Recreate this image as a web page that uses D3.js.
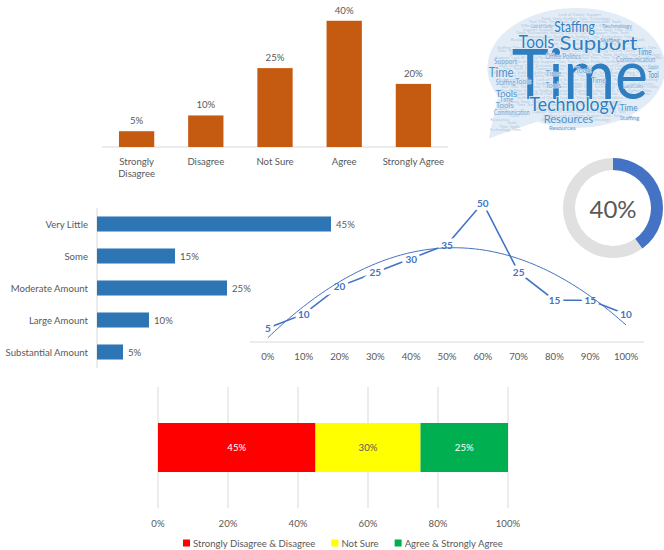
<!DOCTYPE html>
<html>
<head>
<meta charset="utf-8">
<script src="https://cdn.jsdelivr.net/npm/d3@7"></script>
<style>
  body { margin: 0; background: #fff; }
  svg text { font-family: Lato, "Open Sans", sans-serif; }
</style>
</head>
<body>
<svg id="chart" width="664" height="550"></svg>
<script>
// agreement question (column chart)
var agreeCats = ["Strongly Disagree", "Disagree", "Not Sure", "Agree", "Strongly Agree"]
var agreeVals = [5, 10, 25, 40, 20]

// amount question (bar chart)
var amountCats = ["Very Little", "Some", "Moderate Amount", "Large Amount", "Substantial Amount"]
var amountVals = [45, 15, 25, 10, 5]

// line chart with trendline
var lineCats = ["0%", "10%", "20%", "30%", "40%", "50%", "60%", "70%", "80%", "90%", "100%"]
var lineVals = [5, 10, 20, 25, 30, 35, 50, 25, 15, 15, 10]

// donut
var donutVal = 40

// stacked 100% bar
var stackCats = ["Strongly Disagree & Disagree", "Not Sure", "Agree & Strongly Agree"]
var stackVals = [45, 30, 25]
var stackColors = ["#FF0000", "#FFFF00", "#00B050"]
var stackTicks = [0, 20, 40, 60, 80, 100]

// word cloud words and weights
var cloudWords = ["Time", "Support", "Technology", "Staffing", "Tools", "Resources", "Time", "Tools",
  "Support", "Staffing", "Time", "Time", "Communication", "Tool", "Office Politics", "Lack of Clarity",
  "Lack of Clarity", "Technology", "Communication", "Tools", "Time", "Staffing", "Resources", "Support",
  "Time", "Tools", "Tools", "Time", "Staffing", "Tools"]
var cloudSizes = [70, 19, 19, 15, 17, 12, 13, 10, 8, 8, 10, 9, 8, 9, 7, 6, 5, 6, 7, 8, 7, 6, 6, 6, 7, 7, 7, 7, 6, 7]
// where each word sits in the cloud (0-100 of the cloud box), and its width
var cloudLayout = [
  [14, 71, 77], [41, 36, 44], [24, 79, 50], [38, 23, 23], [18, 34, 20], [32, 88, 28], [1, 55, 14], [5, 69, 12],
  [4, 46, 13], [5, 61, 11], [75, 79, 10], [85, 39, 8], [73, 44, 22], [91, 56, 6], [33, 42, 20], [77, 63, 11],
  [25, 20, 12], [65, 20, 17], [4, 82, 20], [5, 77, 10], [7, 73, 8], [75, 86, 11], [35, 93, 15], [91, 49, 6],
  [33, 54, 9], [33, 63, 9], [50, 52, 9], [59, 59, 8], [64, 30, 11], [16, 60, 9]
]

var svg = d3.select("#chart")
var textColor = "#595959"
var fs = 9.6

// ---------- column chart ----------
var x1 = d3.scaleBand().domain(agreeCats).range([102, 448]).paddingInner(0.49).paddingOuter(0.245)
var y1 = d3.scaleLinear().domain([0, 45]).range([147, 5])

svg.append("line")
  .attr("x1", 102).attr("x2", 448).attr("y1", y1(0)).attr("y2", y1(0))
  .attr("stroke", "#d9d9d9")

svg.selectAll(".colbar").data(agreeVals).enter().append("rect")
  .attr("class", "colbar")
  .attr("x", function(d, i) { return x1(agreeCats[i]) })
  .attr("y", function(d) { return y1(d) })
  .attr("width", x1.bandwidth())
  .attr("height", function(d) { return y1(0) - y1(d) })
  .attr("fill", "#C55A11")

svg.selectAll(".collab").data(agreeVals).enter().append("text")
  .attr("x", function(d, i) { return x1(agreeCats[i]) + x1.bandwidth() / 2 })
  .attr("y", function(d) { return y1(d) - 7 })
  .attr("text-anchor", "middle")
  .attr("font-size", fs).attr("fill", textColor)
  .text(function(d) { return d + "%" })

agreeCats.forEach(function(c) {
  var words = c == "Strongly Disagree" ? ["Strongly", "Disagree"] : [c]
  var t = svg.append("text")
    .attr("x", x1(c) + x1.bandwidth() / 2)
    .attr("y", 165)
    .attr("text-anchor", "middle")
    .attr("font-size", fs).attr("fill", textColor)
  words.forEach(function(w, k) {
    t.append("tspan").attr("x", x1(c) + x1.bandwidth() / 2).attr("dy", k == 0 ? 0 : 12).text(w)
  })
})

// ---------- horizontal bar chart ----------
var y2 = d3.scaleBand().domain(amountCats).range([208, 368]).paddingInner(0.53).paddingOuter(0.265)
var x2 = d3.scaleLinear().domain([0, 45]).range([97, 331])

svg.append("line")
  .attr("x1", x2(0)).attr("x2", x2(0)).attr("y1", 208).attr("y2", 368)
  .attr("stroke", "#d9d9d9")

svg.selectAll(".hbar").data(amountVals).enter().append("rect")
  .attr("class", "hbar")
  .attr("x", x2(0))
  .attr("y", function(d, i) { return y2(amountCats[i]) })
  .attr("width", function(d) { return x2(d) - x2(0) })
  .attr("height", y2.bandwidth())
  .attr("fill", "#2E75B6")

svg.selectAll(".hlab").data(amountVals).enter().append("text")
  .attr("x", function(d) { return x2(d) + 5 })
  .attr("y", function(d, i) { return y2(amountCats[i]) + y2.bandwidth() / 2 })
  .attr("dominant-baseline", "central")
  .attr("font-size", fs).attr("fill", textColor)
  .text(function(d) { return d + "%" })

svg.selectAll(".hcat").data(amountCats).enter().append("text")
  .attr("x", 88)
  .attr("y", function(d) { return y2(d) + y2.bandwidth() / 2 })
  .attr("dominant-baseline", "central")
  .attr("text-anchor", "end")
  .attr("font-size", fs).attr("fill", textColor)
  .text(function(d) { return d })

// ---------- line chart ----------
var x3 = d3.scaleBand().domain(lineCats).range([250, 644])
var y3 = d3.scaleLinear().domain([0, 60]).range([342, 175])
function px(i) { return x3(lineCats[i]) + x3.bandwidth() / 2 }

svg.append("line")
  .attr("x1", 250).attr("x2", 644).attr("y1", y3(0)).attr("y2", y3(0))
  .attr("stroke", "#d9d9d9")

svg.selectAll(".lcat").data(lineCats).enter().append("text")
  .attr("x", function(d, i) { return px(i) })
  .attr("y", 356)
  .attr("dominant-baseline", "central")
  .attr("text-anchor", "middle")
  .attr("font-size", fs).attr("fill", textColor)
  .text(function(d) { return d })

var line = d3.line()
  .x(function(d, i) { return px(i) })
  .y(function(d) { return y3(d) })

svg.append("path")
  .datum(lineVals)
  .attr("d", line)
  .attr("fill", "none")
  .attr("stroke", "#4472C4")
  .attr("stroke-width", 1.6)

svg.selectAll(".llab").data(lineVals).enter().append("text")
  .attr("x", function(d, i) { return px(i) })
  .attr("y", function(d) { return y3(d) })
  .attr("dominant-baseline", "central")
  .attr("text-anchor", "middle")
  .attr("font-size", 10).attr("font-weight", "bold")
  .attr("fill", "#4472C4")
  .attr("stroke", "#fff").attr("stroke-width", 7).attr("paint-order", "stroke")
  .text(function(d) { return d })

// polynomial (order 2) trendline, least squares
var n = lineVals.length
var S = [0, 0, 0, 0, 0], T = [0, 0, 0]
lineVals.forEach(function(v, i) {
  for (var k = 0; k < 5; k++) S[k] += Math.pow(i, k)
  for (var k = 0; k < 3; k++) T[k] += v * Math.pow(i, k)
})
function det3(m) {
  return m[0][0] * (m[1][1] * m[2][2] - m[1][2] * m[2][1]) -
         m[0][1] * (m[1][0] * m[2][2] - m[1][2] * m[2][0]) +
         m[0][2] * (m[1][0] * m[2][1] - m[1][1] * m[2][0])
}
var M = [[S[0], S[1], S[2]], [S[1], S[2], S[3]], [S[2], S[3], S[4]]]
var D = det3(M)
var coef = [0, 1, 2].map(function(c) {
  var m = M.map(function(r, ri) { return r.map(function(v, ci) { return ci == c ? T[ri] : v }) })
  return det3(m) / D
})
var trendPts = d3.range(0, n - 1 + 0.05, 0.1).map(function(t) {
  return [t, coef[0] + coef[1] * t + coef[2] * t * t]
})
var xt = d3.scaleLinear().domain([0, n - 1]).range([px(0), px(n - 1)])
svg.append("path")
  .datum(trendPts)
  .attr("d", d3.line().x(function(d) { return xt(d[0]) }).y(function(d) { return y3(d[1]) }).curve(d3.curveMonotoneX))
  .attr("fill", "none")
  .attr("stroke", "#4472C4")
  .attr("stroke-width", 1)

// ---------- donut ----------
var donut = svg.append("g").attr("transform", "translate(613,208)")
var arc = d3.arc().innerRadius(38).outerRadius(50)
donut.append("path")
  .attr("d", arc({ startAngle: 0, endAngle: 2 * Math.PI }))
  .attr("fill", "#e0e0e0")
donut.append("path")
  .attr("d", arc({ startAngle: 0, endAngle: 2 * Math.PI * donutVal / 100 }))
  .attr("fill", "#4472C4")
donut.append("text")
  .attr("text-anchor", "middle")
  .attr("dominant-baseline", "central")
  .attr("font-size", 24).attr("fill", textColor)
  .text(donutVal + "%")

// ---------- stacked 100% bar ----------
var x4 = d3.scaleLinear().domain([0, 100]).range([158, 508])
svg.selectAll(".sgrid").data(stackTicks).enter().append("line")
  .attr("x1", function(d) { return x4(d) }).attr("x2", function(d) { return x4(d) })
  .attr("y1", 387).attr("y2", 508)
  .attr("stroke", "#d9d9d9")

svg.selectAll(".stick").data(stackTicks).enter().append("text")
  .attr("x", function(d) { return x4(d) })
  .attr("y", 523)
  .attr("dominant-baseline", "central")
  .attr("text-anchor", "middle")
  .attr("font-size", fs).attr("fill", textColor)
  .text(function(d) { return d + "%" })

var stackStart = d3.cumsum([0].concat(stackVals))
svg.selectAll(".sbar").data(stackVals).enter().append("rect")
  .attr("x", function(d, i) { return x4(stackStart[i]) })
  .attr("y", 423)
  .attr("width", function(d) { return x4(d) - x4(0) })
  .attr("height", 49)
  .attr("fill", function(d, i) { return stackColors[i] })

svg.selectAll(".slab").data(stackVals).enter().append("text")
  .attr("x", function(d, i) { return x4(stackStart[i] + d / 2) })
  .attr("y", 447.5)
  .attr("dominant-baseline", "central")
  .attr("text-anchor", "middle")
  .attr("font-size", fs)
  .attr("fill", function(d, i) { return i == 1 ? textColor : "#fff" })
  .text(function(d) { return d + "%" })

// legend, laid out by text width
var lx = 183
stackCats.forEach(function(c, i) {
  svg.append("rect").attr("x", lx).attr("y", 539.5).attr("width", 7).attr("height", 7)
    .attr("fill", stackColors[i])
  var t = svg.append("text").attr("x", lx + 10).attr("y", 543)
    .attr("dominant-baseline", "central")
    .attr("font-size", fs).attr("fill", textColor).text(c)
  lx += 10 + t.node().getComputedTextLength() + 16
})

// ---------- word cloud ----------
var cx = d3.scaleLinear().domain([0, 100]).range([487, 664])
var cy = d3.scaleLinear().domain([0, 100]).range([0, 140])
var cloud = svg.append("g")
var ell = { x: cx(50.5), y: cy(48.5), rx: 89, ry: 60 }
var tail = [[cx(6), cy(70)], [cx(1), cy(99)], [cx(30), cy(86)]]

function bubble(sel) {
  sel.append("ellipse").attr("cx", ell.x).attr("cy", ell.y).attr("rx", ell.rx).attr("ry", ell.ry)
  sel.append("path").attr("d", "M" + tail.join("L") + "Z")
}
var bg = cloud.append("g").attr("fill", "#e2ecf6")
bubble(bg)

function inBubble(x, y) {
  var dx = (x - ell.x) / ell.rx, dy = (y - ell.y) / ell.ry
  return dx * dx + dy * dy < 0.97
}

// faint filler words as texture
var filler = cloud.append("g")
var wi = 0
for (var r = 0; r < 36; r++) {
  var yy = 9 + r * 3.6
  var xx = cx(0) - (r % 4) * 4
  while (xx < 664) {
    var w = cloudWords[wi % cloudWords.length]
    var t = filler.append("text").attr("x", xx).attr("y", yy)
      .attr("font-size", 4.2).attr("fill", "#b0c8e1").text(w)
    var len = t.node().getComputedTextLength()
    var inside = (inBubble(xx, yy) && inBubble(xx + len, yy) && inBubble(xx, yy - 3) && inBubble(xx + len, yy - 3)) ||
      (yy > cy(75) && xx > cx(1) && xx + len < cx(22) && yy < cy(96))
    if (!inside) t.remove()
    xx += len + 1.5
    wi += 7
  }
}

cloudWords.forEach(function(w, i) {
  var p = cloudLayout[i]
  var s = cloudSizes[i]
  cloud.append("text")
    .attr("x", cx(p[0])).attr("y", cy(p[1]))
    .attr("font-family", "'Open Sans', sans-serif")
    .attr("font-size", s)
    .attr("textLength", p[2] / 100 * 177)
    .attr("lengthAdjust", "spacingAndGlyphs")
    .attr("stroke", "#e2ecf6").attr("stroke-width", s > 12 ? 1.5 : 0.8).attr("paint-order", "stroke")
    .attr("fill", s >= 15 ? "#2f7ec1" : (s >= 9 ? "#4a8fcb" : "#6fa3d3"))
    .text(w)
})
</script>
</body>
</html>
